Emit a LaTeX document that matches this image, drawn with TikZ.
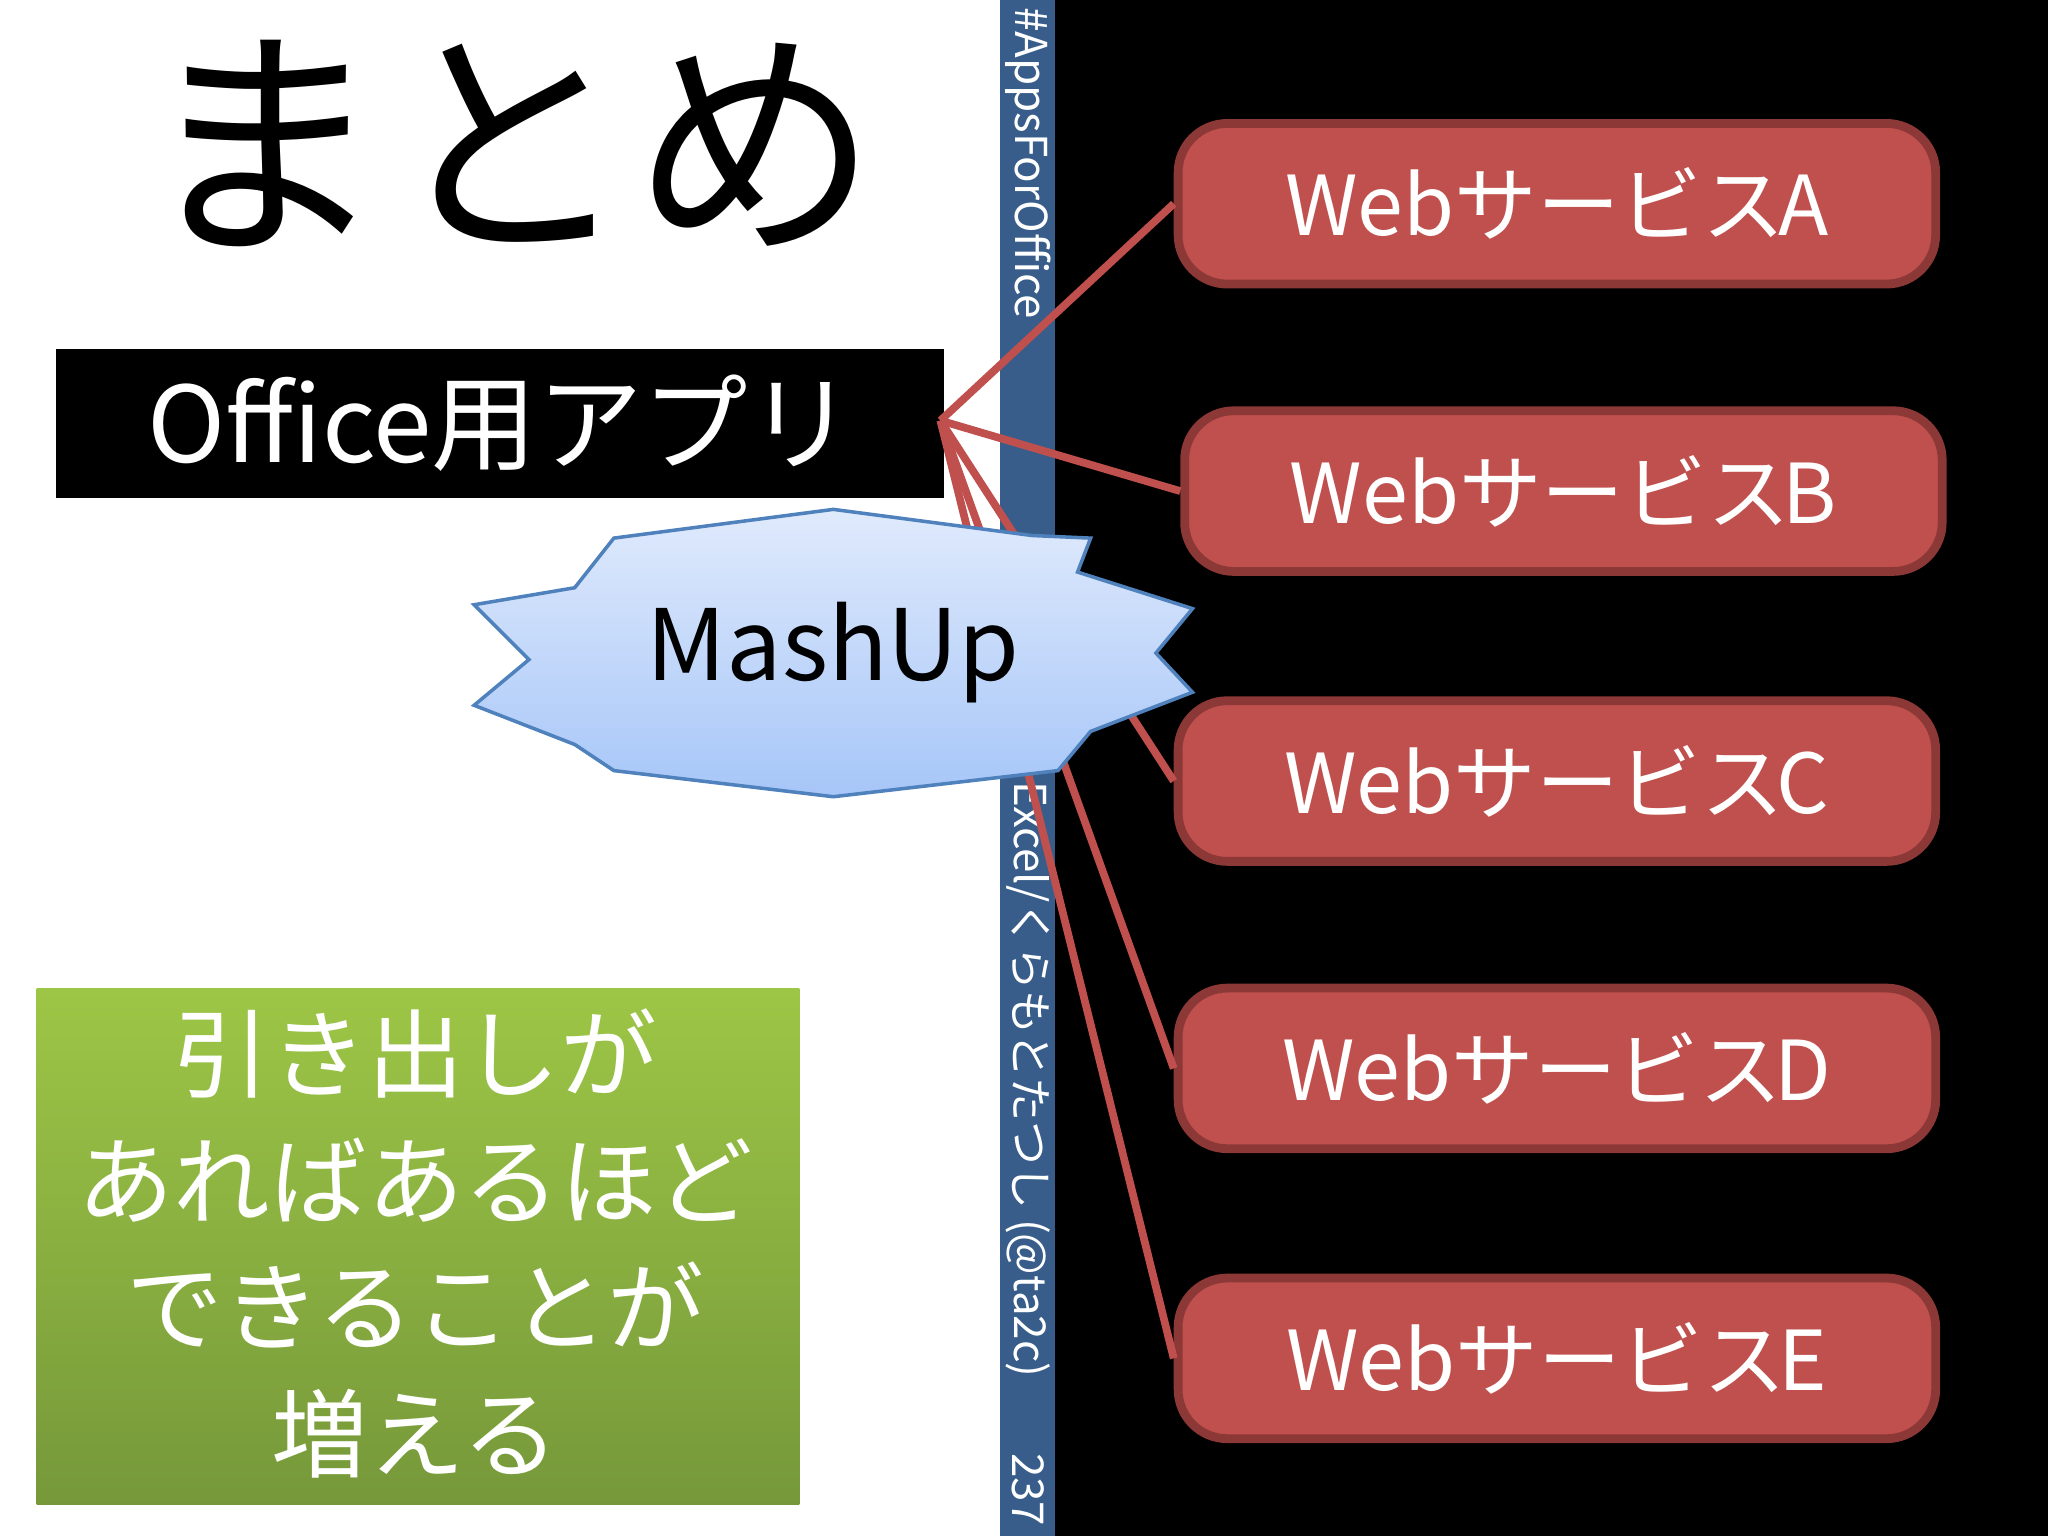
\documentclass[tikz,border=0pt]{standalone}
\usepackage{fontspec}
\setmainfont{Noto Sans CJK JP}
\definecolor{webfill}{RGB}{192,80,77}
\definecolor{webdraw}{RGB}{140,56,54}
\definecolor{stripc}{RGB}{56,93,138}
\definecolor{startop}{RGB}{224,234,252}
\definecolor{starbot}{RGB}{166,198,248}
\definecolor{stardraw}{RGB}{79,129,189}
\definecolor{gtop}{RGB}{157,198,70}
\definecolor{gbot}{RGB}{118,152,58}
\begin{document}
\begin{tikzpicture}[x=0.013061cm,y=-0.013061cm,
  web/.style={rounded corners=14pt,fill=webfill,draw=webdraw,line width=2.5pt,minimum width=580*0.013061cm,minimum height=123*0.013061cm,text=white,font=\fontsize{23.5}{28}\selectfont,inner sep=0pt},
  link/.style={draw=webfill,line width=2.2pt},
  strip/.style={text=white,font=\fontsize{12.5}{14}\selectfont,rotate=-90,inner sep=0pt}]
\useasboundingbox (0,0) rectangle (1568,1176);
\fill[white] (0,0) rectangle (766,1176);
\fill[black] (808,0) rectangle (1568,1176);
\fill[stripc] (766,0) rectangle (808,1176);
\node[strip,anchor=west] (tag) at (787,5) {\#AppsForOffice};
\node[strip,anchor=west] (auth) at (787,598) {Excel/くらもとたつし (@ta2c)};
\node[strip,anchor=west] (pg) at (787,1112) {237};
\node (title) at (390,110) {\fontsize{70}{80}\selectfont まとめ};
\node[fill=black,text=white,minimum width=680*0.013061cm,minimum height=114*0.013061cm,inner sep=0pt,font=\fontsize{30}{36}\selectfont] (app) at (383,324) {Office用アプリ};
\coordinate (hub) at (720,322);
\node[web] (wa) at (1192,156) {Webサービス\kern-2pt A};
\node[web] (wb) at (1197,376) {Webサービス\kern-2pt B};
\node[web] (wc) at (1192,598) {Webサービス\kern-2pt C};
\node[web] (wd) at (1192,818) {Webサービス\kern-2pt D};
\node[web] (we) at (1192,1040) {Webサービス\kern-2pt E};
\foreach \t in {wa,wb,wc,wd,we} \draw[link] (hub) -- (\t.west);
\shade[top color=startop,bottom color=starbot,draw=stardraw,line width=1pt]
 (638,390) -- (790,410) -- (835,412) -- (825,438) -- (913,466) -- (885,500) -- (913,530) -- (835,560) -- (810,590) -- (638,610) -- (470,590) -- (440,570) -- (363,540) -- (405,505) -- (363,463) -- (440,450) -- (470,412) -- cycle;
\node[font=\fontsize{28}{34}\selectfont] (mash) at (638,500) {MashUp};
\shade[top color=gtop,bottom color=gbot] (28,757) rectangle (612,1152);
\node[text=white,align=center,font=\fontsize{27.5}{34}\selectfont,inner sep=0pt] (note) at (318,952) {引き出しが\\[2pt]あればあるほど\\[2pt]できることが\\[2pt]増える};
\end{tikzpicture}
\end{document}
